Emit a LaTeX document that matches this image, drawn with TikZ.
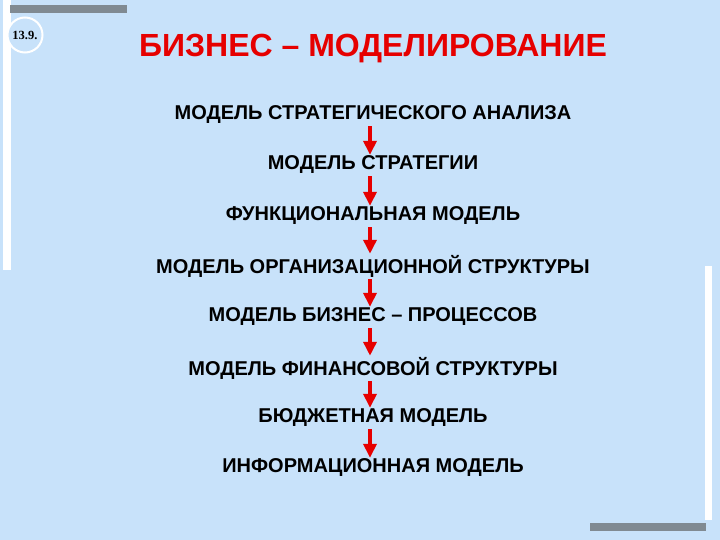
\documentclass[tikz,border=0pt]{standalone}
\usepackage{fontspec}
\setmainfont{Liberation Sans}
\usetikzlibrary{arrows.meta}
\definecolor{bg}{RGB}{200,226,250}
\definecolor{barg}{RGB}{128,138,146}
\definecolor{tred}{RGB}{230,0,0}
\begin{document}
\begin{tikzpicture}[x=1pt,y=-1pt,
  item/.style={font=\bfseries\fontsize{20}{23}\selectfont, text=black, inner sep=1pt},
  arr/.style={draw=tred, line width=3.5pt, -{Triangle[width=13pt,length=14pt]}, shorten <=1pt, shorten >=0pt}]
\useasboundingbox (0,0) rectangle (720,540);
\fill[bg] (0,0) rectangle (720,540);
% decorative bars
\fill[white] (3,0) rectangle (11,270);
\fill[white] (705,266) rectangle (712,520);
\fill[barg] (10,5) rectangle (127,13);
\fill[barg] (590,523) rectangle (706,531);
% number circle
\node[circle, draw=white, line width=2pt, fill=bg, minimum size=35pt, inner sep=0pt,
  font=\fontspec{Liberation Serif}\bfseries\fontsize{12.5}{14}\selectfont] (num) at (25,35) {13.9.};
% title
\node[font=\bfseries\fontsize{32}{36}\selectfont, text=tred] (title) at (373,49) {БИЗНЕС – МОДЕЛИРОВАНИЕ};
% items
\node[item] (m1) at (373,115) {МОДЕЛЬ СТРАТЕГИЧЕСКОГО АНАЛИЗА};
\node[item] (m2) at (373,165) {МОДЕЛЬ СТРАТЕГИИ};
\node[item] (m3) at (373,216) {ФУНКЦИОНАЛЬНАЯ МОДЕЛЬ};
\node[item] (m4) at (373,266) {МОДЕЛЬ ОРГАНИЗАЦИОННОЙ СТРУКТУРЫ};
\node[item] (m5) at (373,317) {МОДЕЛЬ БИЗНЕС – ПРОЦЕССОВ};
\node[item] (m6) at (373,368) {МОДЕЛЬ ФИНАНСОВОЙ СТРУКТУРЫ};
\node[item] (m7) at (373,418) {БЮДЖЕТНАЯ МОДЕЛЬ};
\node[item] (m8) at (373,468) {ИНФОРМАЦИОННАЯ МОДЕЛЬ};
\coordinate (ax) at (370,0);
\foreach \a/\b in {m1/m2,m2/m3,m3/m4,m4/m5,m5/m6,m6/m7,m7/m8}
  \draw[arr] (\a.south -| ax) -- (\b.north -| ax);
\end{tikzpicture}
\end{document}
